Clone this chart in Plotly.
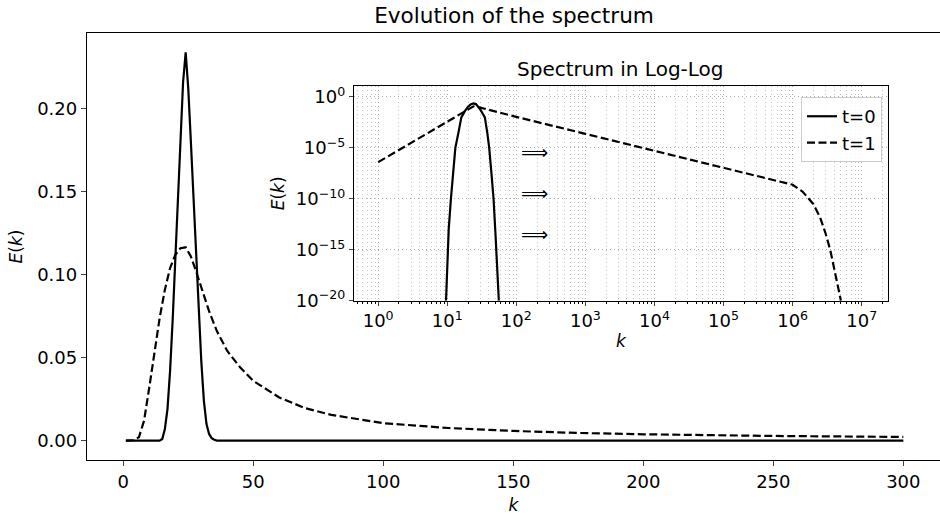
import numpy as np
import plotly.graph_objects as go

# ---------------- data ----------------
# main panel, t=0 (solid)
k_t0 = [1, 14, 15, 16, 17, 18, 19, 20, 21, 22, 23, 24, 25, 26, 27, 28, 29, 30, 31, 32, 33, 34, 35, 36, 300]
E_t0 = [0, 0, 0.001, 0.007, 0.019, 0.042, 0.073, 0.110, 0.148, 0.185, 0.216, 0.234, 0.212, 0.180,
        0.146, 0.111, 0.077, 0.048, 0.024, 0.010, 0.004, 0.0015, 0.0005, 0, 0]

# main panel, t=1 (dashed)
k_t1 = [1, 4, 6, 8, 10, 12, 14, 16, 18, 20, 22, 24, 26, 28, 30, 33, 36, 40, 45, 50, 60, 70, 80,
        100, 125, 150, 175, 200, 250, 300]
E_t1 = [0, 0.0002, 0.002, 0.012, 0.032, 0.054, 0.074, 0.091, 0.104, 0.112, 0.116, 0.1165, 0.111,
        0.102, 0.092, 0.078, 0.066, 0.054, 0.044, 0.036, 0.026, 0.0195, 0.0155,
        0.0105, 0.0076, 0.0058, 0.0046, 0.0038, 0.0028, 0.0022]

# inset (log-log), t=0
k_log_t0 = [9.6, 10, 10.5, 11.3, 12, 13.1, 14.5, 16, 18, 20, 22, 24, 26, 28, 30, 33, 35, 38,
            40.5, 44, 46.8, 50, 53, 55.8]
E_log_t0 = [1e-20, 1e-16, 1e-13, 1e-10, 1e-8, 1e-5, 3e-4, 1e-2, 0.04, 0.11, 0.19, 0.234, 0.20,
            0.12, 0.06, 0.02, 0.01, 3e-4, 1e-5, 1.6e-8, 1e-10, 3e-14, 3e-17, 1e-20]

# inset (log-log), t=1
k_log_t1 = [1, 2, 5, 10, 15, 20, 24, 30, 50, 100, 1e3, 1e4, 1e5, 1e6, 1.4e6, 2e6, 2.5e6, 3e6,
            3.5e6, 4e6, 4.5e6, 5e6]
E_log_t1 = [4e-7, 6.3e-6, 2.5e-4, 4e-3, 1.8e-2, 6e-2, 1.2e-1, 9e-2, 3.5e-2, 1.1e-2, 2.4e-4,
            5.2e-6, 1.1e-7, 2.4e-9, 5e-10, 3e-11, 1.5e-12, 4e-14, 1e-15, 1.5e-17, 2e-19, 1e-20]

# arrows drawn inside the inset (log10 positions)
arrow_logk = [2.256, 2.256, 2.256]
arrow_logE = [-5.39, -9.41, -13.43]

main_xticks = [0, 50, 100, 150, 200, 250, 300]
main_yticks = [0.00, 0.05, 0.10, 0.15, 0.20]
inset_xticks = [1e0, 1e1, 1e2, 1e3, 1e4, 1e5, 1e6, 1e7]
inset_xtext = ["10<sup>0</sup>", "10<sup>1</sup>", "10<sup>2</sup>", "10<sup>3</sup>",
               "10<sup>4</sup>", "10<sup>5</sup>", "10<sup>6</sup>", "10<sup>7</sup>"]
inset_yticks = [1e0, 1e-5, 1e-10, 1e-15, 1e-20]
inset_ytext = ["10<sup>0</sup>", "10<sup>\u22125</sup>", "10<sup>\u221210</sup>",
               "10<sup>\u221215</sup>", "10<sup>\u221220</sup>"]

FONT = "DejaVu Sans"
BASE = 18
LABEL = 17
DASH = "8px,3.5px"
GRIDDASH = "1.5px,2.5px"

fig = go.Figure()
fig.add_trace(go.Scatter(x=k_t0, y=E_t0, mode="lines", line=dict(color="black", width=2.2),
                         showlegend=False, xaxis="x", yaxis="y"))
fig.add_trace(go.Scatter(x=k_t1, y=E_t1, mode="lines", line=dict(color="black", width=2.2, dash=DASH),
                         showlegend=False, xaxis="x", yaxis="y"))
fig.add_trace(go.Scatter(x=k_log_t0, y=E_log_t0, mode="lines", name="t=0",
                         line=dict(color="black", width=2.2), xaxis="x2", yaxis="y2"))
fig.add_trace(go.Scatter(x=k_log_t1, y=E_log_t1, mode="lines", name="t=1",
                         line=dict(color="black", width=2.2, dash=DASH), xaxis="x2", yaxis="y2"))

minor_x = [m * 10.0 ** e for e in range(-1, 8) for m in range(2, 10)]

fig.update_layout(
    width=940, height=520,
    margin=dict(l=87, r=0, t=33, b=60),
    paper_bgcolor="white", plot_bgcolor="white",
    font=dict(family=FONT, color="black", size=BASE),
    title=dict(text="Evolution of the spectrum", x=0.5006, xref="paper", xanchor="center",
               y=1 - 15 / 520, yref="container", yanchor="middle", font=dict(size=21.6)),
    xaxis=dict(range=[-13.95, 314.1], tickvals=main_xticks, ticks="outside", ticklen=5,
               showline=True, mirror=True, linecolor="black", linewidth=1.3, showgrid=False,
               zeroline=False, title=dict(text="<i>k</i>", standoff=8, font=dict(size=LABEL)),
               tickfont=dict(size=BASE)),
    yaxis=dict(range=[-0.0117, 0.2457], tickvals=main_yticks, tickformat=".2f", ticks="outside",
               ticklen=5, showline=True, mirror=True, linecolor="black", linewidth=1.3,
               showgrid=False, zeroline=False,
               title=dict(text="<i>E</i>(<i>k</i>)", standoff=10, font=dict(size=LABEL)),
               tickfont=dict(size=BASE)),
    xaxis2=dict(type="log", range=[-0.35, 7.38], domain=[0.313, 0.939], anchor="y2",
                tickmode="array", tickvals=inset_xticks, ticktext=inset_xtext, ticks="outside",
                ticklen=4, showline=True, mirror=True, linecolor="black", linewidth=1.3,
                showgrid=True, gridcolor="#aaaaaa", griddash=GRIDDASH, gridwidth=1,
                zeroline=False, tickfont=dict(size=BASE),
                minor=dict(tickmode="array", tickvals=minor_x, ticks="outside", ticklen=2.5,
                           tickcolor="black", showgrid=True, gridcolor="#c4c4c4", griddash=GRIDDASH),
                title=dict(text="<i>k</i>", standoff=4, font=dict(size=LABEL))),
    yaxis2=dict(type="log", range=[-20, 1.08], domain=[0.373, 0.876], anchor="x2",
                tickmode="array", tickvals=inset_yticks, ticktext=inset_ytext, ticks="outside",
                ticklen=4, showline=True, mirror=True, linecolor="black", linewidth=1.3,
                showgrid=True, gridcolor="#aaaaaa", griddash=GRIDDASH, gridwidth=1,
                zeroline=False, tickfont=dict(size=BASE),
                title=dict(text="<i>E</i>(<i>k</i>)", standoff=6, font=dict(size=LABEL))),
    legend=dict(x=0.932, y=0.85, xanchor="right", yanchor="top", bgcolor="rgba(255,255,255,0.85)",
                bordercolor="#cccccc", borderwidth=1, font=dict(size=BASE), tracegroupgap=0),
)

fig.add_annotation(text="Spectrum in Log-Log", xref="x2 domain", yref="y2 domain", x=0.5, y=1,
                   xanchor="center", yanchor="bottom", yshift=3, showarrow=False,
                   font=dict(size=20))
for ax_, ay_ in zip(arrow_logk, arrow_logE):
    fig.add_annotation(text="\u27f9", xref="x2", yref="y2", x=ax_, y=ay_, showarrow=False,
                       font=dict(size=19, family=FONT), xanchor="center", yanchor="middle")

fig.write_html("out.html")
